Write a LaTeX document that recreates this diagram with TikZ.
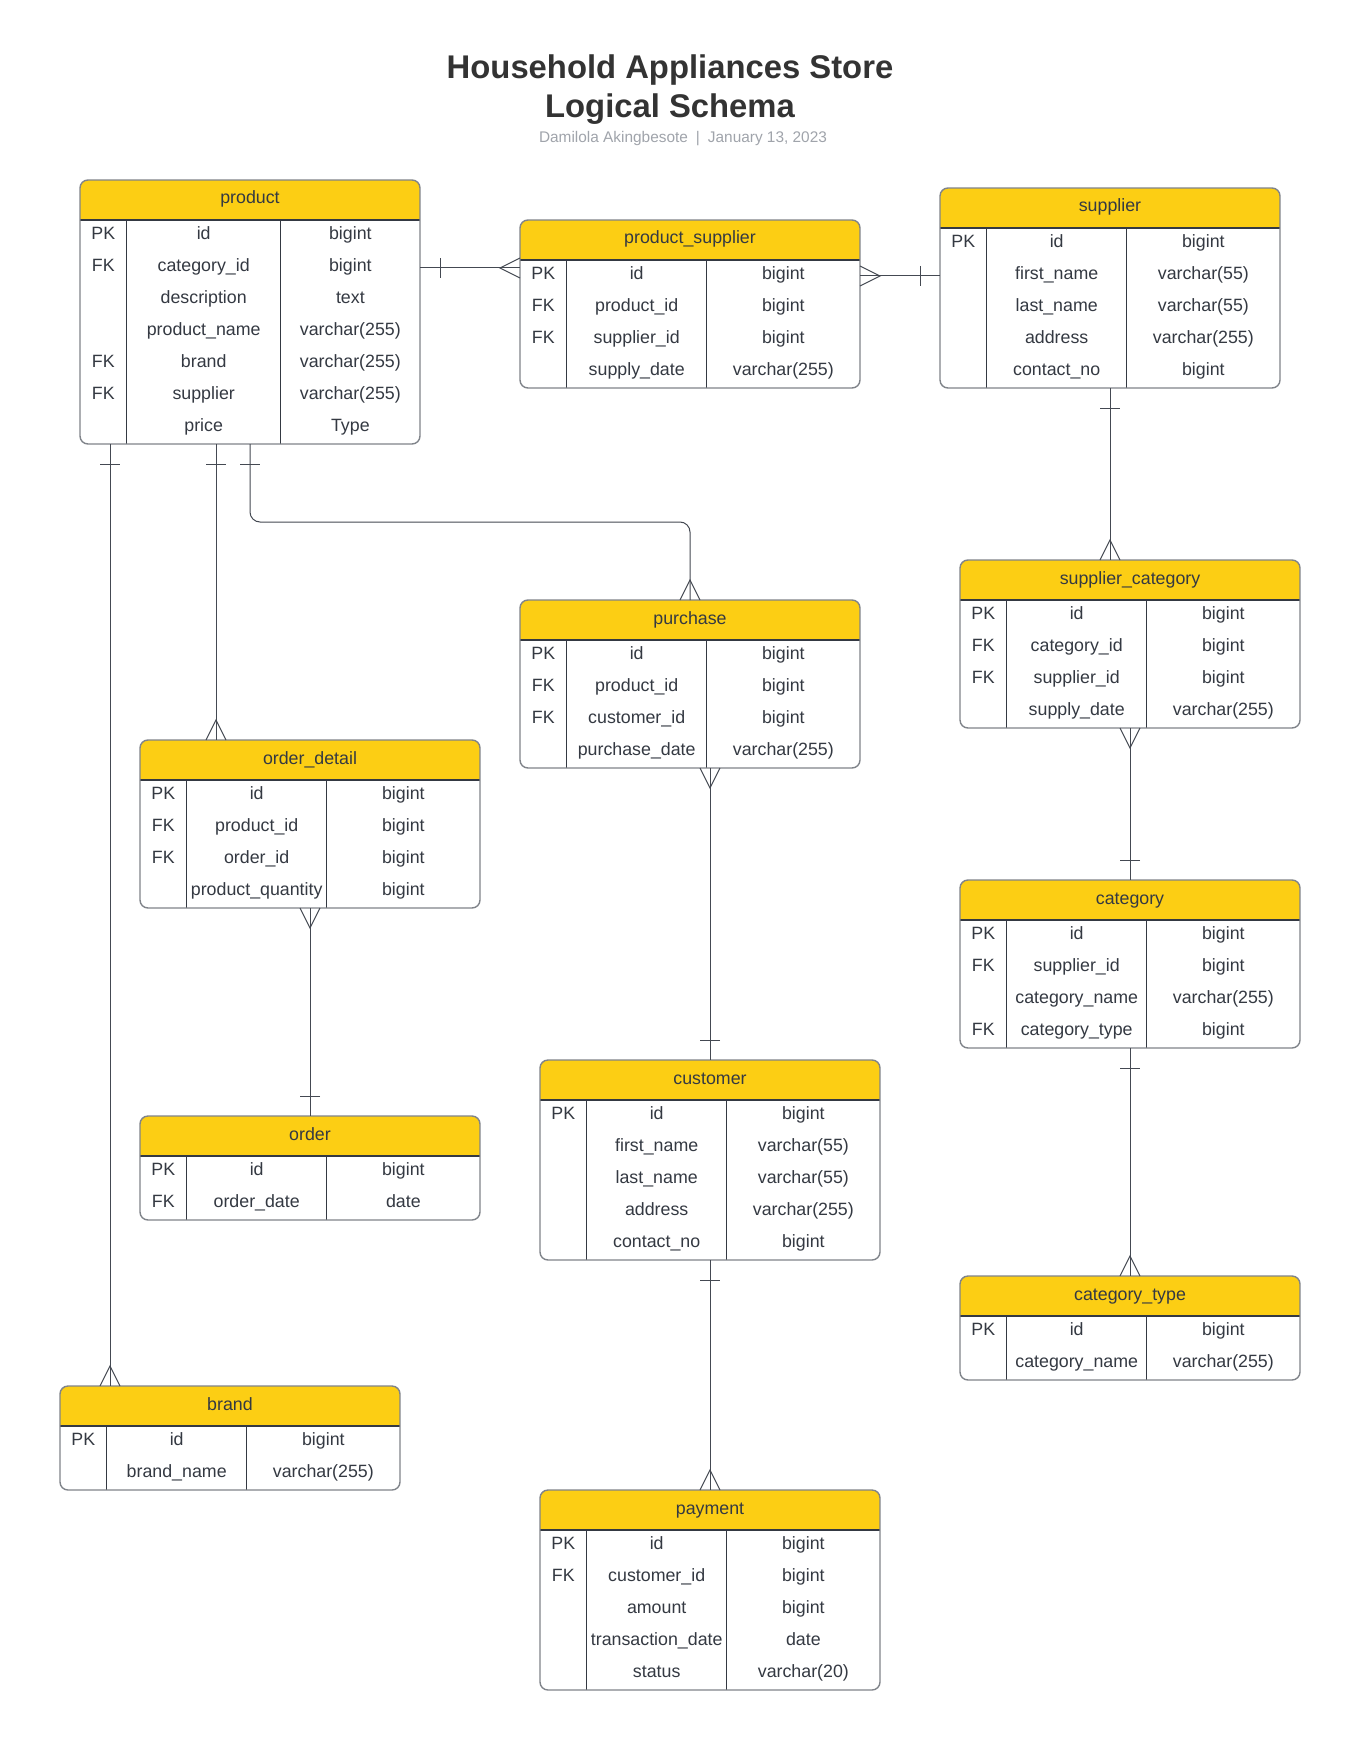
\documentclass[tikz,border=0pt]{standalone}
\usepackage{fontspec}
\setmainfont{Liberation Sans}
\usetikzlibrary{calc}

\definecolor{headyellow}{RGB}{252,206,20}
\definecolor{inkc}{RGB}{52,57,66}
\definecolor{framec}{RGB}{128,132,138}
\definecolor{linkc}{RGB}{68,73,82}
\definecolor{titlec}{RGB}{51,51,51}
\definecolor{subc}{RGB}{160,164,171}

\tikzset{
  framebox/.style={draw=framec, line width=1.4pt, rounded corners=8pt,
    minimum width=340pt, inner sep=0pt, outer sep=0pt},
  gridline/.style={draw=inkc, line width=1.1pt},
  celltext/.style={text=inkc, font=\fontsize{17.8}{20}\selectfont,
    anchor=base, inner sep=0pt},
  link/.style={draw=linkc, line width=1pt},
  crowpic/.pic={\draw[link] (-10,0) -- (0,20) -- (10,0);},
  tickpic/.pic={\draw[link] (-10,20) -- (10,20);},
  headline/.style={font=\bfseries\fontsize{32.8}{38}\selectfont, text=titlec, anchor=base},
}

% #1 node name, #2 left, #3 top, #4 width of the name column,
% #5 number of rows, #6 table title, #7 rows key/name/type
\newcommand{\erdtable}[7]{%
  \pgfmathsetmacro{\tabH}{40+32*#5}%
  \pgfmathsetmacro{\colA}{#2+46.7}%
  \pgfmathsetmacro{\colB}{#2+46.7+#4}%
  \pgfmathsetmacro{\midA}{#2+23.35}%
  \pgfmathsetmacro{\midB}{(\colA+\colB)/2}%
  \pgfmathsetmacro{\midC}{(\colB+#2+340)/2}%
  \begin{scope}
    \clip[rounded corners=8pt] ({#2},{#3}) rectangle ++(340,\tabH);
    \fill[headyellow] ({#2},{#3}) rectangle ++(340,40);
  \end{scope}
  \draw[gridline] ({#2},{#3+40}) -- ++(340,0);
  \draw[gridline] (\colA,{#3+40}) -- (\colA,{#3+\tabH});
  \draw[gridline] (\colB,{#3+40}) -- (\colB,{#3+\tabH});
  \node[celltext] at ({#2+170},{#3+24}) {#6};
  \foreach \fk/\fn/\ft [count=\i] in {#7} {
    \pgfmathsetmacro{\yb}{#3+40+32*(\i-1)+19.5}
    \node[celltext] at (\midA,\yb) {\fk};
    \node[celltext] at (\midB,\yb) {\fn};
    \node[celltext] at (\midC,\yb) {\ft};
  }
  \node[framebox, minimum height=\tabH pt, anchor=north west] (#1) at ({#2},{#3}) {};
}

\begin{document}
\begin{tikzpicture}[x=1pt, y=-1pt]
  \fill[white] (0,0) rectangle (1360,1760);
  \useasboundingbox (0,0) rectangle (1360,1760);

  % heading
  \node[headline] (title1) at (670,78.3) {Household Appliances Store};
  \node[headline] (title2) at (670,117.5) {Logical Schema};
  \node[font=\fontsize{15.4}{18}\selectfont, text=subc, anchor=base]
    (byline) at (683,143) {Damilola Akingbesote\hspace{8pt}|\hspace{8pt}January 13, 2023};

  % tables
  \erdtable{product}{80}{180}{154}{7}{product}{%
    PK/id/bigint, FK/category\_id/bigint, /description/text,
    /product\_name/varchar(255), FK/brand/varchar(255),
    FK/supplier/varchar(255), /price/Type}
  \erdtable{prodsup}{520}{220}{140}{4}{product\_supplier}{%
    PK/id/bigint, FK/product\_id/bigint, FK/supplier\_id/bigint,
    /supply\_date/varchar(255)}
  \erdtable{supplier}{940}{188}{140}{5}{supplier}{%
    PK/id/bigint, /first\_name/varchar(55), /last\_name/varchar(55),
    /address/varchar(255), /contact\_no/bigint}
  \erdtable{purchase}{520}{600}{140}{4}{purchase}{%
    PK/id/bigint, FK/product\_id/bigint, FK/customer\_id/bigint,
    /purchase\_date/varchar(255)}
  \erdtable{supcat}{960}{560}{140}{4}{supplier\_category}{%
    PK/id/bigint, FK/category\_id/bigint, FK/supplier\_id/bigint,
    /supply\_date/varchar(255)}
  \erdtable{orderdet}{140}{740}{140}{4}{order\_detail}{%
    PK/id/bigint, FK/product\_id/bigint, FK/order\_id/bigint,
    /product\_quantity/bigint}
  \erdtable{category}{960}{880}{140}{4}{category}{%
    PK/id/bigint, FK/supplier\_id/bigint, /category\_name/varchar(255),
    FK/category\_type/bigint}
  \erdtable{order}{140}{1116}{140}{2}{order}{%
    PK/id/bigint, FK/order\_date/date}
  \erdtable{customer}{540}{1060}{140}{5}{customer}{%
    PK/id/bigint, /first\_name/varchar(55), /last\_name/varchar(55),
    /address/varchar(255), /contact\_no/bigint}
  \erdtable{cattype}{960}{1276}{140}{2}{category\_type}{%
    PK/id/bigint, /category\_name/varchar(255)}
  \erdtable{brand}{60}{1386}{140}{2}{brand}{%
    PK/id/bigint, /brand\_name/varchar(255)}
  \erdtable{payment}{540}{1490}{140}{5}{payment}{%
    PK/id/bigint, FK/customer\_id/bigint, /amount/bigint,
    /transaction\_date/date, /status/varchar(20)}

  % relationships
  % product -- product_supplier
  \draw[link] ([yshift=-88pt]product.north east) -- ([yshift=-48pt]prodsup.north west);
  \pic[rotate=90] at ([yshift=-88pt]product.north east) {tickpic};
  \pic[rotate=-90] at ([yshift=-48pt]prodsup.north west) {crowpic};

  % product_supplier -- supplier
  \draw[link] ([yshift=-56pt]prodsup.north east) -- ([yshift=-88pt]supplier.north west);
  \pic[rotate=90] at ([yshift=-56pt]prodsup.north east) {crowpic};
  \pic[rotate=-90] at ([yshift=-88pt]supplier.north west) {tickpic};

  % supplier -- supplier_category
  \draw[link] (supplier.south) -- ([xshift=-20pt]supcat.north);
  \pic at (supplier.south) {tickpic};
  \pic[rotate=180] at ([xshift=-20pt]supcat.north) {crowpic};

  % supplier_category -- category
  \draw[link] (supcat.south) -- (category.north);
  \pic at (supcat.south) {crowpic};
  \pic[rotate=180] at (category.north) {tickpic};

  % category -- category_type
  \draw[link] (category.south) -- (cattype.north);
  \pic at (category.south) {tickpic};
  \pic[rotate=180] at (cattype.north) {crowpic};

  % product -- brand
  \draw[link] ([xshift=30pt]product.south west) -- ([xshift=50pt]brand.north west);
  \pic at ([xshift=30pt]product.south west) {tickpic};
  \pic[rotate=180] at ([xshift=50pt]brand.north west) {crowpic};

  % product -- order_detail
  \draw[link] ([xshift=136pt]product.south west) -- ([xshift=76pt]orderdet.north west);
  \pic at ([xshift=136pt]product.south west) {tickpic};
  \pic[rotate=180] at ([xshift=76pt]orderdet.north west) {crowpic};

  % product -- purchase
  \draw[link, rounded corners=10pt] (product.south) -- ++(0,78) -| (purchase.north);
  \pic at (product.south) {tickpic};
  \pic[rotate=180] at (purchase.north) {crowpic};

  % order_detail -- order
  \draw[link] (orderdet.south) -- (order.north);
  \pic at (orderdet.south) {crowpic};
  \pic[rotate=180] at (order.north) {tickpic};

  % purchase -- customer
  \draw[link] ([xshift=20pt]purchase.south) -- (customer.north);
  \pic at ([xshift=20pt]purchase.south) {crowpic};
  \pic[rotate=180] at (customer.north) {tickpic};

  % customer -- payment
  \draw[link] (customer.south) -- (payment.north);
  \pic at (customer.south) {tickpic};
  \pic[rotate=180] at (payment.north) {crowpic};
\end{tikzpicture}
\end{document}
